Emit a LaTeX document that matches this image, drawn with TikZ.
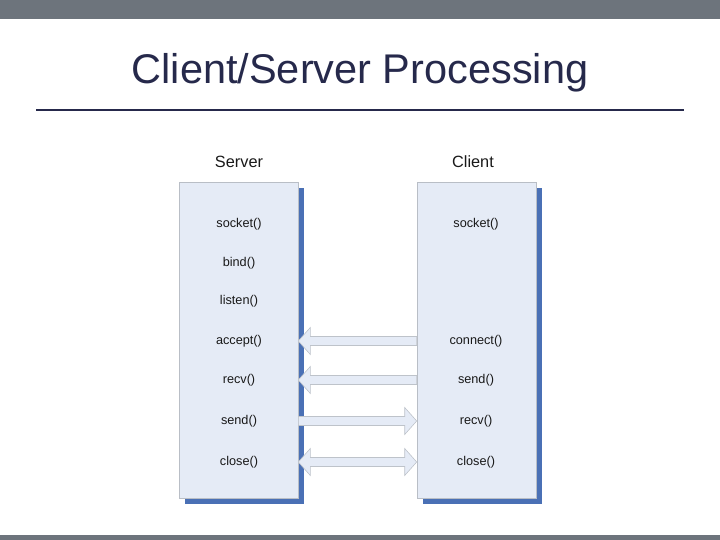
\documentclass[tikz,border=0pt]{standalone}
\usepackage{fontspec}
\setmainfont{Liberation Sans}
\usetikzlibrary{calc,shadows,positioning}
\definecolor{bargray}{RGB}{109,116,124}
\definecolor{titlenavy}{RGB}{38,41,75}
\definecolor{lanefill}{RGB}{229,235,246}
\definecolor{laneedge}{RGB}{185,190,198}
\definecolor{laneshadow}{RGB}{74,112,181}
\definecolor{pipefill}{RGB}{229,235,246}
\definecolor{pipeedge}{RGB}{190,195,202}
\definecolor{calltext}{RGB}{25,25,25}
\begin{document}
\begin{tikzpicture}[x=1pt,y=-1pt,
  lane/.style={draw=laneedge,line width=0.6pt,fill=lanefill,inner sep=0pt,
    minimum width=119pt,minimum height=316pt,
    drop shadow={shadow xshift=6pt,shadow yshift=-6pt,fill=laneshadow,opacity=1,draw=none}},
  call/.style={font=\fontsize{12.7}{15}\selectfont,text=calltext,inner sep=1pt},
  head/.style={font=\fontsize{16.3}{19}\selectfont,text=calltext,anchor=base},
  % one head, #1 = offset of the head back from the tip
  pipe/.style={draw=pipeedge,line width=0.6pt,fill=pipefill,
    to path={($(\tikztostart)+(0,-4.5)$) -- ($(\tikztotarget)+(#1,-4.5)$)
      -- ($(\tikztotarget)+(#1,-13.5)$) -- (\tikztotarget)
      -- ($(\tikztotarget)+(#1,13.5)$) -- ($(\tikztotarget)+(#1,4.5)$)
      -- ($(\tikztostart)+(0,4.5)$) -- cycle}},
  % heads at both ends
  pipes/.style={draw=pipeedge,line width=0.6pt,fill=pipefill,
    to path={(\tikztostart) -- ++(12,-13.5) -- ++(0,9)
      -- ($(\tikztotarget)+(-12,-4.5)$) -- ++(0,-9) -- (\tikztotarget)
      -- ++(-12,13.5) -- ++(0,-9) -- ($(\tikztostart)+(12,4.5)$)
      -- ++(0,9) -- cycle}}]
\useasboundingbox (0,0) rectangle (720,540);
\fill[bargray] (0,0) rectangle (720,19);
\fill[bargray] (0,535) rectangle (720,540);

\node[anchor=base,text=titlenavy,font=\fontsize{41.5}{48}\selectfont] (title) at (360,84) {Client/Server Processing};
\draw[titlenavy,line width=2.6pt] (36,110) -- (684,110);

% the two processes
\node[lane] (srv) at (238.5,340) {};
\node[lane] (cli) at (476.5,340) {};
\node[head] (srvhead) at (239,168) {Server};
\node[head] (clihead) at (473,168) {Client};

% server calls
\node[call] (sSocket) at (239,224) {socket()};
\node[call] (sBind)   at (239,263) {bind()};
\node[call] (sListen) at (239,301) {listen()};
\node[call] (sAccept) at (239,341) {accept()};
\node[call] (sRecv)   at (239,380) {recv()};
\node[call] (sSend)   at (239,421) {send()};
\node[call] (sClose)  at (239,462) {close()};

% client calls
\node[call] (cSocket)  at (476,224) {socket()};
\node[call] (cConnect) at (476,341) {connect()};
\node[call] (cSend)    at (476,380) {send()};
\node[call] (cRecv)    at (476,421) {recv()};
\node[call] (cClose)   at (476,462) {close()};

% messages
\draw[pipe=12] (cli.west |- cConnect) to (srv.east |- sAccept);
\draw[pipe=12] (cli.west |- cSend) to (srv.east |- sRecv);
\draw[pipe=-12] (srv.east |- sSend) to (cli.west |- cRecv);
\draw[pipes] (srv.east |- sClose) to (cli.west |- cClose);
\end{tikzpicture}
\end{document}
